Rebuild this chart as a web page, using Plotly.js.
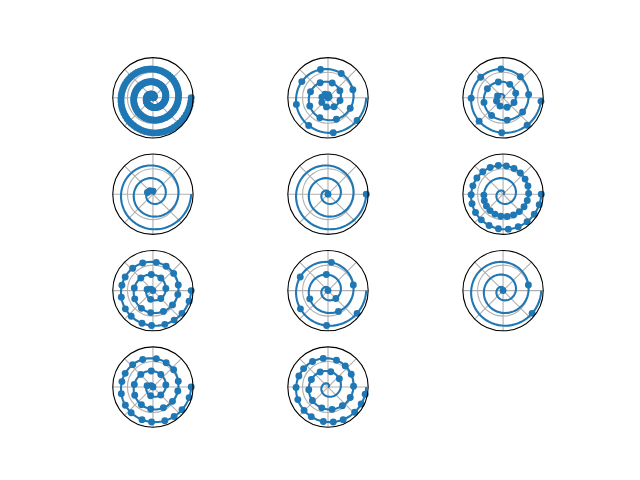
<!DOCTYPE html>
<html>
<head>
<meta charset="utf-8">
<script src="https://cdn.plot.ly/plotly-3.0.1.min.js"></script>
<style>html,body{margin:0;padding:0;background:#fff;}#plot{width:640px;height:480px;}</style>
</head>
<body>
<div id="plot"></div>
<script>
// spiral data: radius and angle (degrees) of the 200 points
const rVals = [0,0.015,0.030,0.045,0.060,0.075,0.090,0.106,0.121,0.136,
0.151,0.166,0.181,0.196,0.211,0.226,0.241,0.256,0.271,0.286,
0.302,0.317,0.332,0.347,0.362,0.377,0.392,0.407,0.422,0.437,
0.452,0.467,0.482,0.497,0.513,0.528,0.543,0.558,0.573,0.588,
0.603,0.618,0.633,0.648,0.663,0.678,0.693,0.709,0.724,0.739,
0.754,0.769,0.784,0.799,0.814,0.829,0.844,0.859,0.874,0.889,
0.905,0.920,0.935,0.950,0.965,0.980,0.995,1.010,1.025,1.040,
1.055,1.070,1.085,1.101,1.116,1.131,1.146,1.161,1.176,1.191,
1.206,1.221,1.236,1.251,1.266,1.281,1.296,1.312,1.327,1.342,
1.357,1.372,1.387,1.402,1.417,1.432,1.447,1.462,1.477,1.492,
1.508,1.523,1.538,1.553,1.568,1.583,1.598,1.613,1.628,1.643,
1.658,1.673,1.688,1.704,1.719,1.734,1.749,1.764,1.779,1.794,
1.809,1.824,1.839,1.854,1.869,1.884,1.899,1.915,1.930,1.945,
1.960,1.975,1.990,2.005,2.020,2.035,2.050,2.065,2.080,2.095,
2.111,2.126,2.141,2.156,2.171,2.186,2.201,2.216,2.231,2.246,
2.261,2.276,2.291,2.307,2.322,2.337,2.352,2.367,2.382,2.397,
2.412,2.427,2.442,2.457,2.472,2.487,2.503,2.518,2.533,2.548,
2.563,2.578,2.593,2.608,2.623,2.638,2.653,2.668,2.683,2.698,
2.714,2.729,2.744,2.759,2.774,2.789,2.804,2.819,2.834,2.849,
2.864,2.879,2.894,2.910,2.925,2.940,2.955,2.970,2.985,3.000];

const thetaDeg = [0,5.4,10.9,16.3,21.7,27.1,32.6,38.0,43.4,48.8,
54.3,59.7,65.1,70.6,76.0,81.4,86.8,92.3,97.7,103.1,
108.5,114.0,119.4,124.8,130.3,135.7,141.1,146.5,152.0,157.4,
162.8,168.2,173.7,179.1,184.5,190.0,195.4,200.8,206.2,211.7,
217.1,222.5,227.9,233.4,238.8,244.2,249.6,255.1,260.5,265.9,
271.4,276.8,282.2,287.6,293.1,298.5,303.9,309.3,314.8,320.2,
325.6,331.1,336.5,341.9,347.3,352.8,358.2,363.6,369.0,374.5,
379.9,385.3,390.8,396.2,401.6,407.0,412.5,417.9,423.3,428.7,
434.2,439.6,445.0,450.5,455.9,461.3,466.7,472.2,477.6,483.0,
488.4,493.9,499.3,504.7,510.2,515.6,521.0,526.4,531.9,537.3,
542.7,548.1,553.6,559.0,564.4,569.8,575.3,580.7,586.1,591.6,
597.0,602.4,607.8,613.3,618.7,624.1,629.5,635.0,640.4,645.8,
651.3,656.7,662.1,667.5,673.0,678.4,683.8,689.2,694.7,700.1,
705.5,711.0,716.4,721.8,727.2,732.7,738.1,743.5,748.9,754.4,
759.8,765.2,770.7,776.1,781.5,786.9,792.4,797.8,803.2,808.6,
814.1,819.5,824.9,830.4,835.8,841.2,846.6,852.1,857.5,862.9,
868.3,873.8,879.2,884.6,890.1,895.5,900.9,906.3,911.8,917.2,
922.6,928.0,933.5,938.9,944.3,949.7,955.2,960.6,966.0,971.5,
976.9,982.3,987.7,993.2,998.6,1004.0,1009.4,1014.9,1020.3,1025.7,
1031.2,1036.6,1042.0,1047.4,1052.9,1058.3,1063.7,1069.1,1074.6,1080.0];

// radial grid circle value(s)
const radialTicks = [2];

// marker indices for each panel (null = every point)
const marksAll = null;
const marksEvery8 = [0,8,16,24,32,40,48,56,64,72,80,88,96,104,112,120,128,136,144,152,160,168,176,184,192];
const marksFrom30Every8 = [30,38,46,54,62,70,78,86,94,102,110,118,126,134,142,150,158,166,174,182,190,198];
const marksList = [16,24,30];
const marksEnds = [0,199];
const marksSlice = [100,103,106,109,112,115,118,121,124,127,130,133,136,139,142,145,148,151,154,157,160,163,166,169,172,175,178,181,184,187,190,193,196,199];
const marksDist01 = [0,31,47,58,68,77,84,91,98,104,110,115,121,126,131,135,140,144,148,153,157,161,164,168,172,175,179,182,186,189,192,196,199];
const marksDist03 = [0,58,84,104,121,135,148,161,172,182,192];
const marksDist15 = [0,135,192];
const marksDist00_01 = [0,31,47,58,68,77,84,91,98,104,110,115,121,126,131,135,140,144,148,153,157,161,164,168,172,175,179,182,186,189,192,196,199];
const marksDist045_01 = [73,81,88,95,101,107,113,118,123,128,133,138,142,146,151,155,159,162,166,170,174,177,181,184,187,191,194,197];

const panels = [marksAll, marksEvery8, marksFrom30Every8, marksList, marksEnds, marksSlice,
                marksDist01, marksDist03, marksDist15, marksDist00_01, marksDist045_01];

const W = 640, H = 480;
const colCenters = [152.94, 328.0, 503.06];
const rowCenters = [97.77, 194.19, 290.61, 387.03];
const rad = 40.17;
const blue = '#1f77b4';

const traces = [];
const layout = {
  width: W, height: H,
  margin: {l: 0, r: 0, t: 0, b: 0},
  paper_bgcolor: '#ffffff',
  showlegend: false
};

panels.forEach((idx, k) => {
  const key = k === 0 ? 'polar' : 'polar' + (k + 1);
  const cx = colCenters[k % 3], cy = rowCenters[Math.floor(k / 3)];
  layout[key] = {
    domain: {
      x: [(cx - rad) / W, (cx + rad) / W],
      y: [(H - cy - rad) / H, (H - cy + rad) / H]
    },
    bgcolor: '#ffffff',
    radialaxis: {
      range: [0, 3.15], tickvals: radialTicks, showticklabels: false, ticks: '',
      showline: false, showgrid: true, gridcolor: '#b0b0b0', gridwidth: 1.1
    },
    angularaxis: {
      rotation: 0, direction: 'counterclockwise',
      tickmode: 'linear', tick0: 0, dtick: 45,
      showticklabels: false, ticks: '',
      showline: true, linecolor: '#000000', linewidth: 1.1,
      showgrid: true, gridcolor: '#b0b0b0', gridwidth: 1.1
    }
  };
  traces.push({
    type: 'scatterpolar', subplot: key, mode: 'lines',
    r: rVals, theta: thetaDeg,
    line: {color: blue, width: 2.1},
    hoverinfo: 'skip'
  });
  const mr = idx === null ? rVals : idx.map(i => rVals[i]);
  const mt = idx === null ? thetaDeg : idx.map(i => thetaDeg[i]);
  traces.push({
    type: 'scatterpolar', subplot: key, mode: 'markers',
    r: mr, theta: mt,
    marker: {color: blue, size: 6.9, line: {width: 0}},
    hoverinfo: 'skip'
  });
});

Plotly.newPlot('plot', traces, layout, {staticPlot: true, displayModeBar: false});
</script>
</body>
</html>
